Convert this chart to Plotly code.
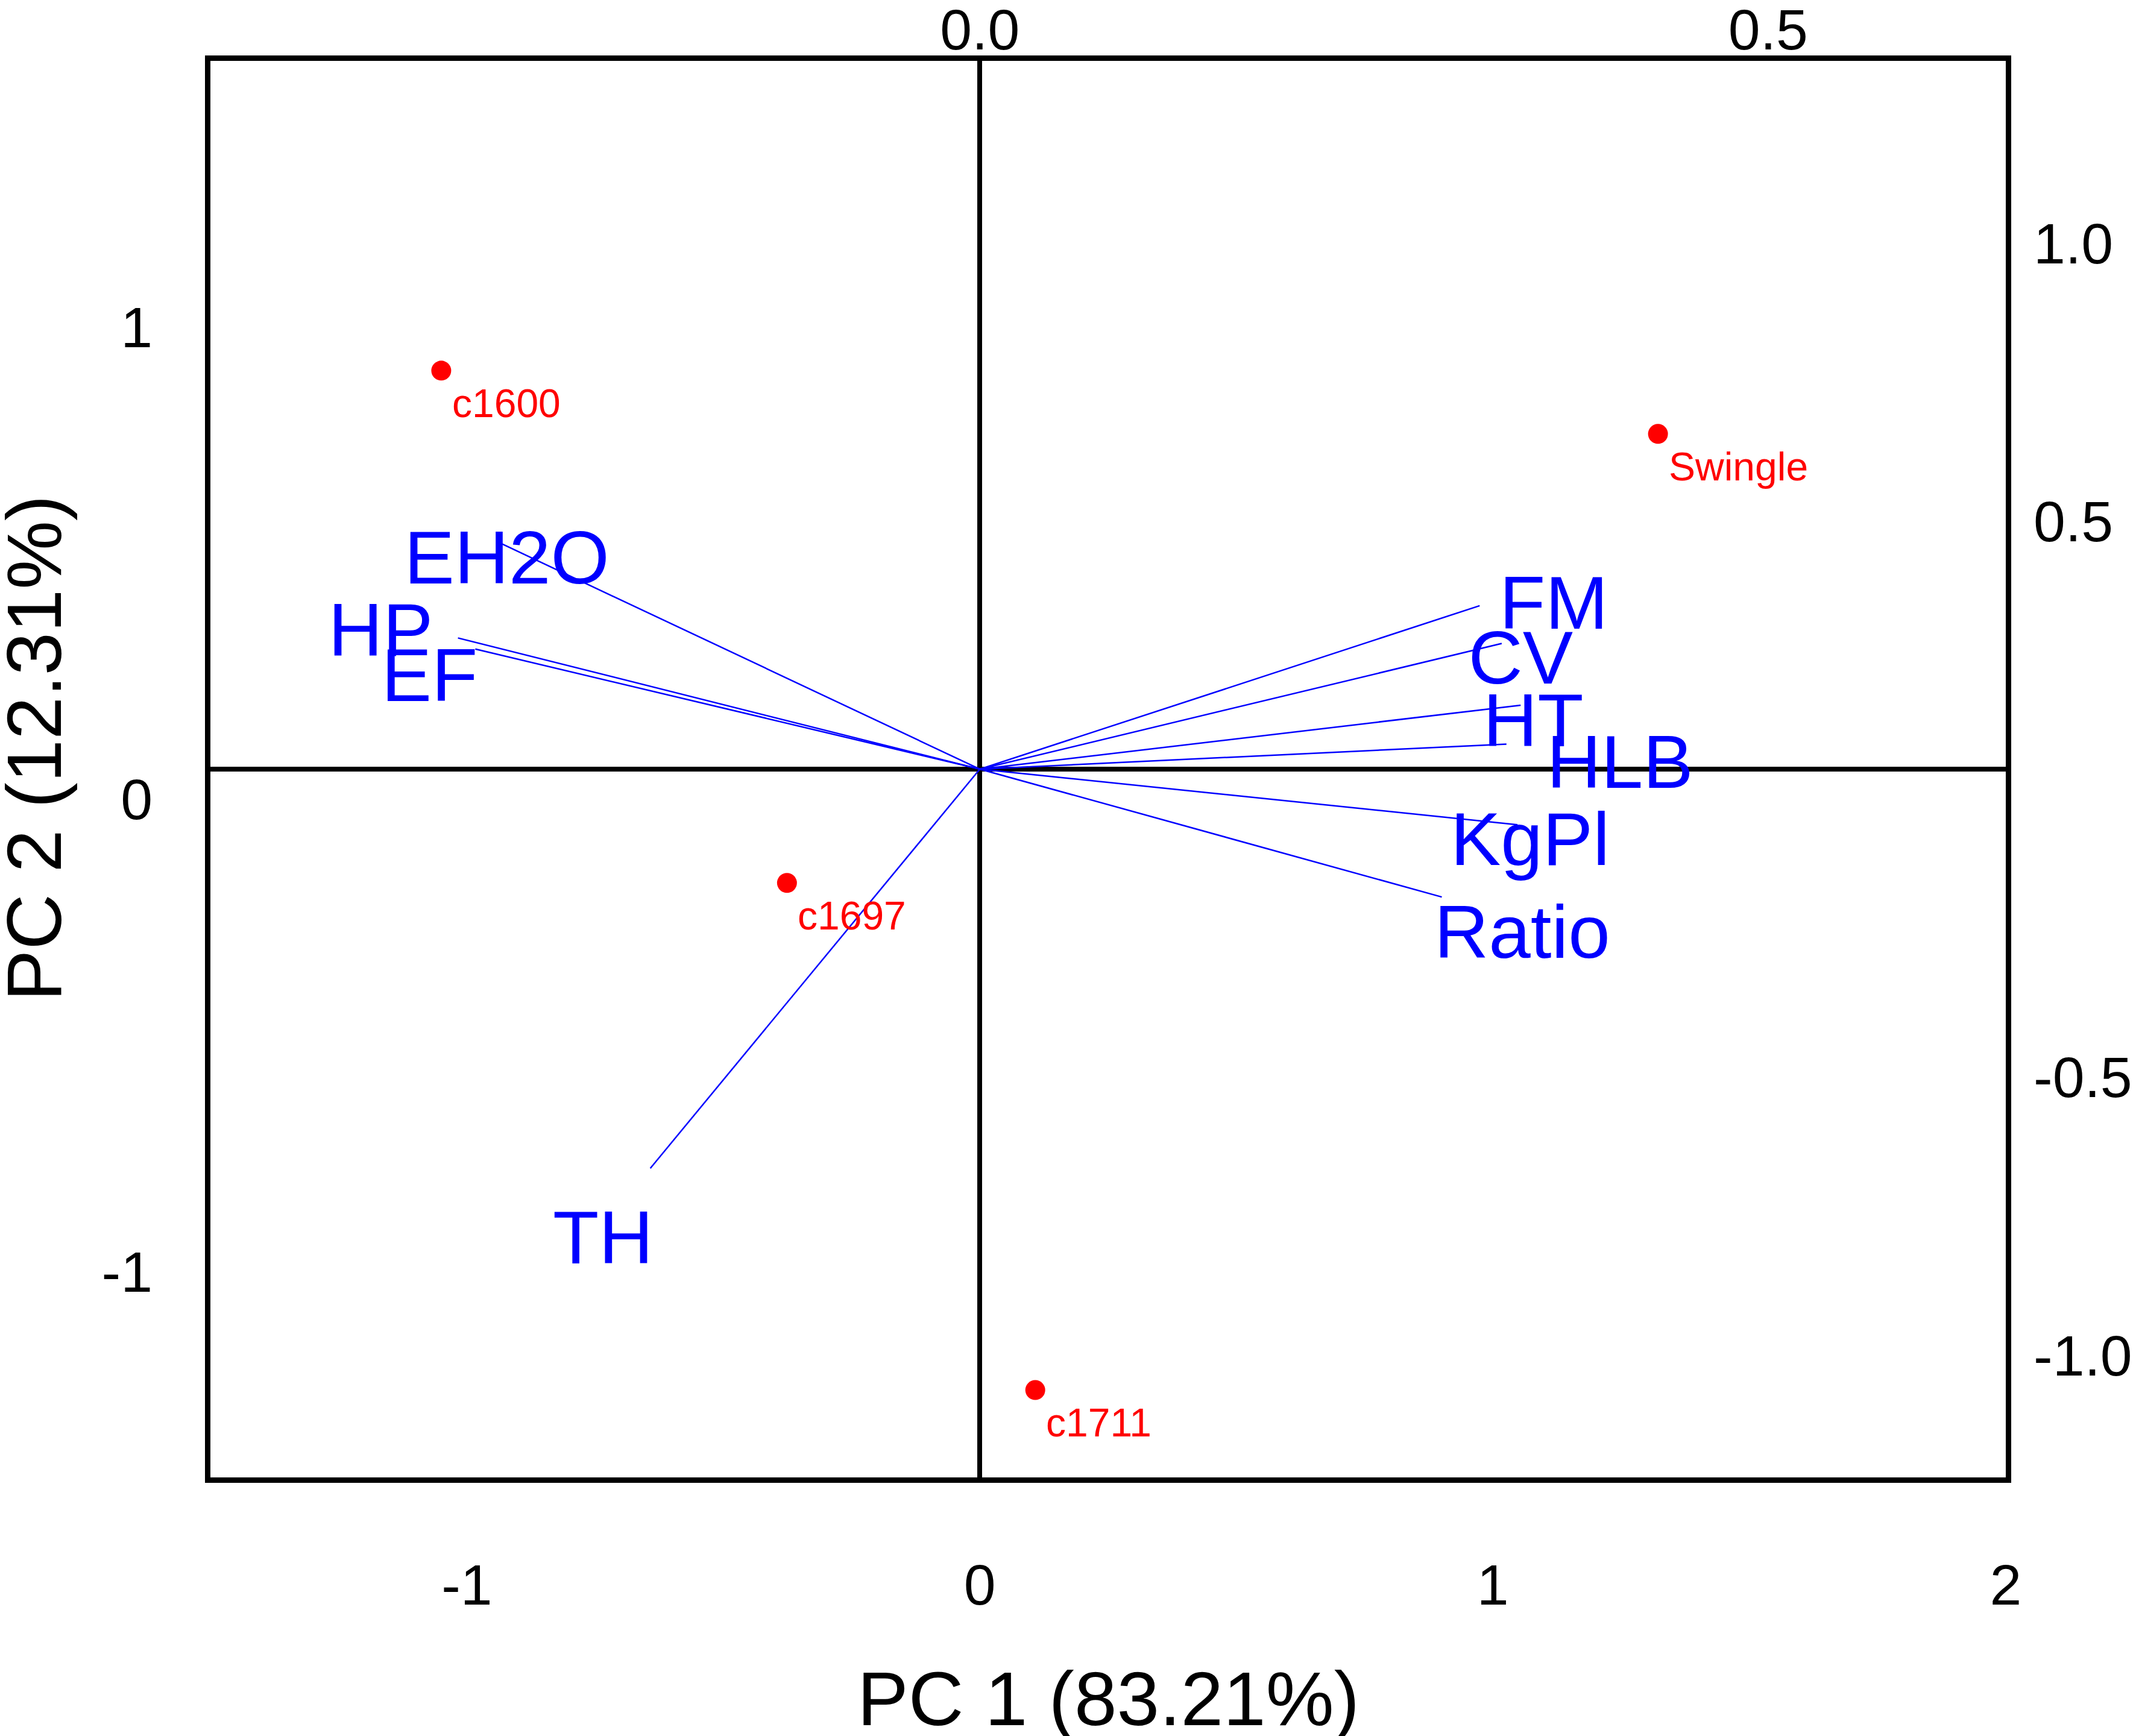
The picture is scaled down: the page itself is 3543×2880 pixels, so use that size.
import plotly.graph_objects as go

# PCA biplot: sample scores (bottom/left axes)
samples = ["c1600", "Swingle", "c1697", "c1711"]
score_pc1 = [-1.050, 1.322, -0.376, 0.108]
score_pc2 = [0.844, 0.710, -0.241, -1.315]

# variable loadings (top/right axes)
variables = ["EH2O", "HP", "EF", "TH", "FM", "CV", "HT", "HLB", "KgPl", "Ratio"]
load_pc1 = [-0.303, -0.331, -0.320, -0.209, 0.317, 0.331, 0.343, 0.334, 0.341, 0.293]
load_pc2 = [0.405, 0.236, 0.216, -0.718, 0.294, 0.226, 0.115, 0.045, -0.100, -0.230]

# where each variable name sits (loading units)
label_pc1 = [-0.300, -0.380, -0.349, -0.239, 0.364, 0.343, 0.351, 0.406, 0.349, 0.344]
label_pc2 = [0.368, 0.238, 0.156, -0.855, 0.286, 0.188, 0.075, 0.0, -0.139, -0.306]

bottom_ticks = [-1, 0, 1, 2]
left_ticks = [-1, 0, 1]
top_ticks = [0.0, 0.5]
right_ticks = [1.0, 0.5, -0.5, -1.0]

font = "Liberation Sans, Arial, sans-serif"

vx, vy = [], []
for a, b in zip(load_pc1, load_pc2):
    vx += [0, a, None]
    vy += [0, b, None]

fig = go.Figure()

fig.add_trace(go.Scatter(
    x=vx, y=vy, mode="lines", xaxis="x2", yaxis="y2",
    line=dict(color="#0000FF", width=2.5), hoverinfo="skip",
))
fig.add_trace(go.Scatter(
    x=label_pc1, y=label_pc2, mode="text", text=variables,
    textposition="middle center", xaxis="x2", yaxis="y2",
    textfont=dict(family=font, size=125, color="#0000FF"),
))
fig.add_trace(go.Scatter(
    x=score_pc1, y=score_pc2, mode="markers", xaxis="x", yaxis="y",
    marker=dict(color="#FF0000", size=33),
))

annotations = []
for s, a, b in zip(samples, score_pc1, score_pc2):
    annotations.append(dict(
        x=a, y=b, xref="x", yref="y", text=s, showarrow=False,
        xanchor="left", yanchor="middle", xshift=16, yshift=-54,
        font=dict(family=font, size=66, color="#FF0000"),
    ))
annotations.append(dict(
    x=0.5, y=-0.156, xref="paper", yref="paper", text="PC 1 (83.21%)",
    showarrow=False, xanchor="center", yanchor="middle",
    font=dict(family=font, size=127, color="black"),
))
annotations.append(dict(
    x=-0.098, y=0.515, xref="paper", yref="paper", text="PC 2 (12.31%)",
    showarrow=False, xanchor="center", yanchor="middle", textangle=-90,
    font=dict(family=font, size=128, color="black"),
))

axis_common = dict(
    showline=True, linewidth=9, linecolor="black", showgrid=False,
    ticks="", automargin=False,
    tickfont=dict(family=font, size=95, color="black"),
)

fig.update_layout(
    width=3543, height=2880,
    margin=dict(l=341, r=224, t=93, b=437),
    paper_bgcolor="white", plot_bgcolor="white",
    showlegend=False,
    annotations=annotations,
    xaxis=dict(
        range=[-1.5, 2], tickvals=bottom_ticks,
        ticktext=[str(v) for v in bottom_ticks],
        zeroline=True, zerolinewidth=8, zerolinecolor="black",
        ticklabelstandoff=88, **axis_common,
    ),
    xaxis2=dict(
        range=[-0.488, 0.6507], overlaying="x", side="top",
        tickvals=top_ticks, ticktext=["%.1f" % v for v in top_ticks],
        zeroline=False, ticklabelstandoff=-28, **axis_common,
    ),
    yaxis=dict(
        range=[-1.5, 1.5], tickvals=left_ticks,
        ticktext=[str(v) for v in left_ticks],
        zeroline=True, zerolinewidth=8, zerolinecolor="black",
        ticklabelshift=50, ticklabelstandoff=68, **axis_common,
    ),
    yaxis2=dict(
        range=[-1.274, 1.274], overlaying="y", side="right",
        tickvals=right_ticks, ticktext=["%.1f" % v for v in right_ticks],
        zeroline=False, ticklabelshift=50, ticklabelstandoff=18,
        **axis_common,
    ),
)

fig.write_html("out.html")
